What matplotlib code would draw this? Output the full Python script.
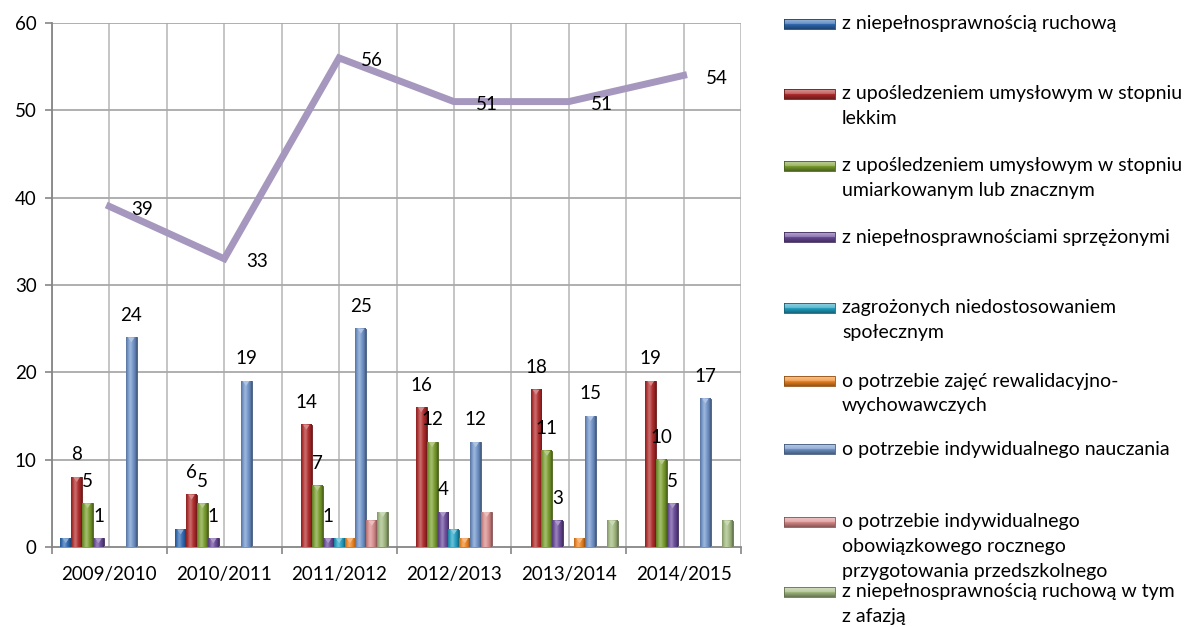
import numpy as np
import matplotlib
matplotlib.use("Agg")
import matplotlib.pyplot as plt
from matplotlib.colors import to_rgb
from matplotlib.patches import Polygon

plt.rcParams['font.family'] = ['Lato', 'DejaVu Sans']

years = ['2009/2010', '2010/2011', '2011/2012', '2012/2013', '2013/2014', '2014/2015']

ruchowa = [1, 2, 0, 0, 0, 0]
lekki = [8, 6, 14, 16, 18, 19]
umiarkowany = [5, 5, 7, 12, 11, 10]
sprzezone = [1, 1, 1, 4, 3, 5]
niedostosowani = [0, 0, 1, 2, 0, 0]
rewalidacja = [0, 0, 1, 1, 1, 0]
indywidualne = [24, 19, 25, 12, 15, 17]
przedszkolne = [0, 0, 3, 4, 0, 0]
afazja = [0, 0, 4, 0, 3, 3]
razem = [39, 33, 56, 51, 51, 54]

names = ['z niepełnosprawnością ruchową',
         'z upośledzeniem umysłowym w stopniu\nlekkim',
         'z upośledzeniem umysłowym w stopniu\numiarkowanym lub znacznym',
         'z niepełnosprawnościami sprzężonymi',
         'zagrożonych niedostosowaniem\nspołecznym',
         'o potrzebie zajęć rewalidacyjno-\nwychowawczych',
         'o potrzebie indywidualnego nauczania',
         'o potrzebie indywidualnego\nobowiązkowego rocznego\nprzygotowania przedszkolnego',
         'z niepełnosprawnością ruchową w tym\nz afazją']
series = [ruchowa, lekki, umiarkowany, sprzezone, niedostosowani,
          rewalidacja, indywidualne, przedszkolne, afazja]
colors = ['#2f6ab3', '#b02a2a', '#7a9e2e', '#6a4a9a', '#23a2c4',
          '#ef8420', '#6f93c9', '#d98a8a', '#a2ba80']
labelled = [False, True, True, True, False, False, True, False, False]
line_color = '#a597bd'
FS = 13.5


def shade_row(c, n=40):
    # light streak left of centre, darker edges -> cylinder look
    base = np.array(to_rgb(c))
    t = np.linspace(0, 1, n)
    light = np.exp(-((t - 0.4) / 0.2) ** 2) * 0.3
    dark = (np.abs(t - 0.45) / 0.55) ** 3 * 0.4
    row = base * (1 - dark)[:, None]
    row = row + (1 - row) * light[:, None]
    return np.clip(row, 0, 1)[None, :, :]


def darker(c, f=0.7):
    return tuple(np.array(to_rgb(c)) * f)


def lighter(c, f=0.55):
    b = np.array(to_rgb(c))
    return tuple(b + (1 - b) * f)


fig = plt.figure(figsize=(11.89, 6.27), dpi=100)
ax = fig.add_axes([52 / 1189, 1 - 547 / 627, 689 / 1189, 524 / 627])

x = np.arange(len(years))
w = 0.095
ppu = 524 / 60.0  # pixels per unit on the value axis

for j, (vals, col) in enumerate(zip(series, colors)):
    pos = x + (j - 4) * w
    bars = ax.bar(pos, vals, width=w, color=col, edgecolor=darker(col, 0.6),
                  linewidth=0.6, zorder=2)
    for b, v in zip(bars, vals):
        if v <= 0:
            continue
        x0 = b.get_x()
        ax.imshow(shade_row(col), extent=(x0, x0 + w, 0, v), aspect='auto',
                  interpolation='bilinear', zorder=3)
        # small bevel on the top of each bar
        th = 5 / ppu
        ax.add_patch(Polygon([(x0 + w * 0.2, v), (x0 + w * 0.8, v),
                              (x0 + w * 0.5, v - th)], closed=True,
                             facecolor=lighter(col, 0.45), edgecolor='none', zorder=4))
        if labelled[j]:
            ax.annotate(str(v), (x0 + w / 2, v), xytext=(0, 16),
                        textcoords='offset points', ha='center', va='center',
                        fontsize=FS, zorder=6)

ax.plot(x, razem, color=line_color, linewidth=5, solid_joinstyle='miter', zorder=5)
for xi, v in zip(x, razem):
    ax.annotate(str(v), (xi, v), xytext=(16, -2), textcoords='offset points',
                ha='left', va='center', fontsize=FS, zorder=6)

ax.set_xlim(-0.5, len(years) - 0.5)
ax.set_ylim(0, 60)
ax.set_yticks(np.arange(0, 61, 10))
ax.set_xticks(x)
ax.set_xticklabels(years)
ax.set_xticks(np.arange(-0.5, len(years), 1.0), minor=True)
ax.tick_params(axis='x', which='major', length=0, pad=14, labelsize=FS)
ax.tick_params(axis='x', which='minor', length=5, color='#868686', width=1.2)
ax.tick_params(axis='y', length=5, color='#868686', width=1.2, pad=6, labelsize=FS)

for gx in np.arange(-0.5, len(years), 0.5):
    ax.axvline(gx, color='#c0c0c0', linewidth=1.3, zorder=0.5)
for gy in range(10, 61, 10):
    ax.axhline(gy, color='#a9a9a9', linewidth=1.3, zorder=0.5)

for side in ['top', 'right']:
    ax.spines[side].set_visible(False)
for side in ['left', 'bottom']:
    ax.spines[side].set_color('#868686')
    ax.spines[side].set_linewidth(1.3)

# legend drawn on a pixel-space overlay
lax = fig.add_axes([0, 0, 1, 1])
lax.set_xlim(0, 1189)
lax.set_ylim(627, 0)
lax.axis('off')
entry_y = [24, 94, 166, 237, 308, 381, 449, 522, 592]
for name, col, y0 in zip(names, colors, entry_y):
    b = np.array(to_rgb(col))
    t = np.linspace(0, 1, 12)
    grad = np.array([b + (1 - b) * 0.5 * (1 - tt) if tt < 0.5 else b * (1 - 0.35 * (tt - 0.5) * 2)
                     for tt in t])[:, None, :]
    lax.imshow(grad, extent=(784, 835, y0 + 5, y0 - 5), aspect='auto',
               interpolation='bilinear', zorder=2)
    lax.plot([784, 835, 835, 784, 784], [y0 - 5, y0 - 5, y0 + 5, y0 + 5, y0 - 5],
             color=darker(col, 0.6), linewidth=0.6, zorder=3)
    for k, line in enumerate(name.split('\n')):
        lax.text(842, y0 + k * 24.5, line, fontsize=14, ha='left', va='center')

fig.savefig('out.png', dpi=100)
